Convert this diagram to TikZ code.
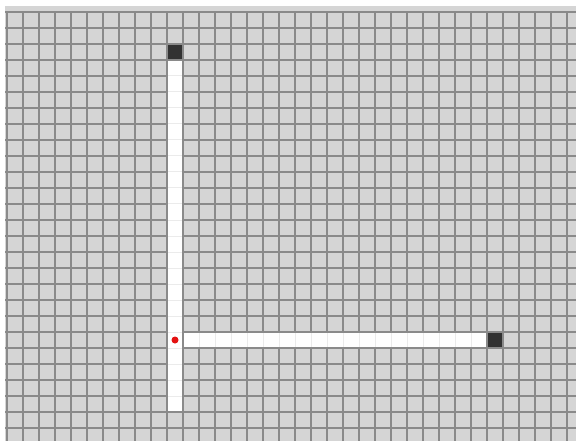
\documentclass[tikz,border=0pt]{standalone}
\definecolor{cellgray}{RGB}{213,213,213}
\definecolor{linegray}{RGB}{138,138,138}
\definecolor{wallgray}{RGB}{50,50,50}
\definecolor{dotred}{RGB}{228,18,18}
\begin{document}
\begin{tikzpicture}[x=1pt,y=-1pt,
  gridline/.style={draw=linegray,line width=2pt},
  faint/.style={draw=black!8,line width=1pt},
  wallcell/.style={fill=wallgray,draw=none,inner sep=0pt,minimum size=14pt},
  reddot/.style={circle,fill=dotred,draw=none,inner sep=0pt,minimum size=7pt}]
\useasboundingbox (0,0) rectangle (576,441);
\fill[white] (0,0) rectangle (576,441);
\fill[cellgray] (5,6) rectangle (576,441);
% grid
\foreach \k in {0,...,35} \draw[gridline] ({7+16*\k},12) -- ({7+16*\k},441);
\foreach \j in {0,...,26} \draw[gridline] (5,{12+16*\j}) -- (576,{12+16*\j});
% white vertical corridor (column 10, rows 3..24)
\fill[white] (168,61) rectangle (182,411);
\foreach \j in {4,...,24} \draw[faint] (168,{12+16*\j}) -- (182,{12+16*\j});
% white horizontal corridor (row 20, columns 11..29)
\fill[white] (184,333) rectangle (486,347);
\foreach \k in {12,...,29} \draw[faint] ({7+16*\k},333) -- ({7+16*\k},347);
% wall cells
\node[wallcell] (wallTop) at (175,52) {};
\node[wallcell] (wallRight) at (495,340) {};
% start marker
\node[reddot] (start) at (175,340) {};
\end{tikzpicture}
\end{document}
